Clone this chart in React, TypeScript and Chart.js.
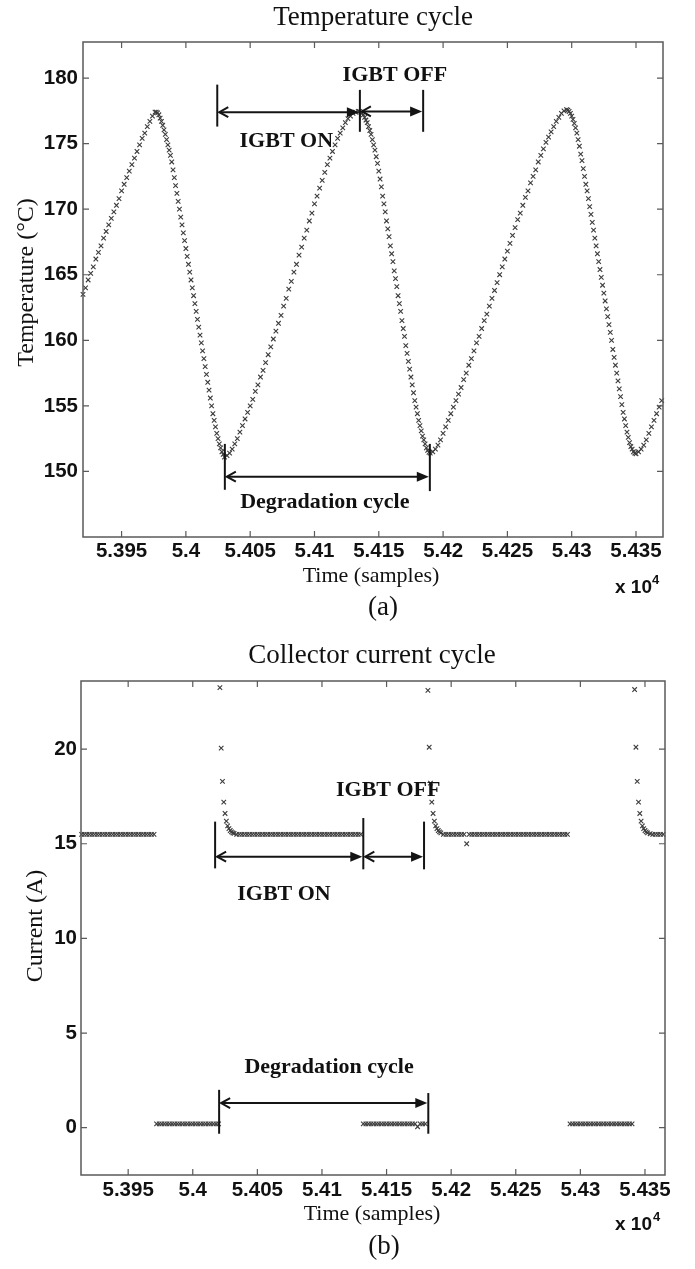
import React, { useEffect, useRef } from 'react';
import { Chart, registerables } from 'chart.js';

Chart.register(...registerables);

const SERIF = '"Liberation Serif", "Times New Roman", serif';
const SANS = '"Liberation Sans", Arial, sans-serif';

// ---------- axis ticks ----------
const xTickValues = [53950, 54000, 54050, 54100, 54150, 54200, 54250, 54300, 54350];
const xTickLabels = ['5.395', '5.4', '5.405', '5.41', '5.415', '5.42', '5.425', '5.43', '5.435'];
const tempYTickValues = [150, 155, 160, 165, 170, 175, 180];
const tempYTickLabels = ['150', '155', '160', '165', '170', '175', '180'];
const curYTickValues = [0, 5, 10, 15, 20];
const curYTickLabels = ['0', '5', '10', '15', '20'];

// ---------- temperature samples (segments: start sample, step, values) ----------
const tempRise0 = [163.5, 164.0, 164.6, 165.1, 165.6, 166.2, 166.7, 167.2, 167.8, 168.3, 168.8, 169.3, 169.8, 170.3, 170.8, 171.4, 171.9, 172.4, 172.9, 173.4, 173.9, 174.4, 174.9, 175.4, 175.8, 176.3, 176.7, 177.1, 177.4];
const tempFall0 = [177.4, 177.35, 177.2, 176.95, 176.7, 176.4, 176.05, 175.7, 175.3, 174.9, 174.5, 174.1, 173.6, 173.0, 172.4, 171.8, 171.2, 170.6, 170.0, 169.4, 168.8, 168.2, 167.6, 167.0, 166.4, 165.8, 165.2, 164.6, 164.0, 163.4, 162.8, 162.2, 161.6, 161.0, 160.4, 159.8, 159.2, 158.6, 158.0, 157.4, 156.8, 156.2, 155.6, 155.0, 154.4, 153.9, 153.4, 152.9, 152.5, 152.1, 151.8, 151.5, 151.3];
const tempRise1 = [151.1, 151.2, 151.4, 151.7, 152.1, 152.5, 153.0, 153.5, 154.0, 154.5, 155.0, 155.5, 156.1, 156.6, 157.2, 157.7, 158.3, 158.9, 159.5, 160.1, 160.7, 161.3, 161.9, 162.6, 163.2, 163.9, 164.5, 165.2, 165.8, 166.5, 167.1, 167.8, 168.4, 169.1, 169.7, 170.4, 171.0, 171.6, 172.2, 172.8, 173.4, 173.9, 174.4, 174.9, 175.4, 175.8, 176.2, 176.6, 176.9, 177.1, 177.3, 177.4, 177.45];
const tempFall1 = [177.45, 177.4, 177.3, 177.2, 177.0, 176.8, 176.6, 176.3, 176.0, 175.7, 175.3, 174.9, 174.5, 174.0, 173.5, 172.9, 172.3, 171.7, 171.0, 170.4, 169.8, 169.1, 168.5, 167.9, 167.2, 166.6, 166.0, 165.3, 164.7, 164.1, 163.4, 162.8, 162.2, 161.5, 160.9, 160.3, 159.6, 159.0, 158.4, 157.8, 157.2, 156.6, 156.0, 155.4, 154.9, 154.4, 153.9, 153.5, 153.1, 152.7, 152.4, 152.1, 151.8, 151.6, 151.45];
const tempRise2 = [151.4, 151.5, 151.7, 152.0, 152.4, 152.9, 153.4, 153.9, 154.4, 154.9, 155.4, 155.9, 156.4, 157.0, 157.5, 158.1, 158.6, 159.2, 159.8, 160.3, 160.9, 161.5, 162.0, 162.6, 163.2, 163.8, 164.4, 165.0, 165.6, 166.2, 166.8, 167.4, 168.0, 168.6, 169.2, 169.7, 170.3, 170.9, 171.4, 172.0, 172.5, 173.0, 173.6, 174.1, 174.6, 175.1, 175.5, 175.9, 176.3, 176.7, 177.0, 177.3, 177.5];
const tempFall2 = [177.6, 177.55, 177.45, 177.3, 177.1, 176.85, 176.55, 176.2, 175.8, 175.3, 174.8, 174.2, 173.7, 173.1, 172.5, 171.9, 171.4, 170.8, 170.2, 169.6, 169.0, 168.4, 167.8, 167.2, 166.6, 166.0, 165.4, 164.8, 164.2, 163.6, 163.0, 162.4, 161.8, 161.2, 160.6, 160.0, 159.3, 158.7, 158.1, 157.5, 156.9, 156.3, 155.7, 155.1, 154.5, 154.0, 153.5, 153.0, 152.6, 152.2, 151.9, 151.7, 151.5, 151.4];
const tempRise3 = [151.35, 151.5, 151.7, 152.0, 152.4, 152.9, 153.4, 153.9, 154.4, 154.9, 155.4];
const tempSegStarts = [53920, 53977, 54030, 54135, 54190, 54296, 54350];
const tempSegSteps = [2, 1, 2, 1, 2, 1, 2];
const tempSegValues = [tempRise0, tempFall0, tempRise1, tempFall1, tempRise2, tempFall2, tempRise3];

// ---------- collector current samples ----------
const curOn0 = [15.5, 15.5, 15.5, 15.5, 15.5, 15.5, 15.5, 15.5, 15.5, 15.5, 15.5, 15.5, 15.5, 15.5, 15.5, 15.5, 15.5, 15.5, 15.5, 15.5, 15.5, 15.5, 15.5, 15.5, 15.5, 15.5, 15.5, 15.5, 15.5];
const curOff0 = [0.2, 0.2, 0.2, 0.2, 0.2, 0.2, 0.2, 0.2, 0.2, 0.2, 0.2, 0.2, 0.2, 0.2, 0.2, 0.2, 0.2, 0.2, 0.2, 0.2, 0.2, 0.2, 0.2, 0.2, 0.2];
const curSpike1 = [23.25, 20.05, 18.3, 17.2, 16.6, 16.2, 15.95, 15.8, 15.7, 15.63, 15.58, 15.55];
const curOn1 = [15.5, 15.5, 15.5, 15.5, 15.5, 15.5, 15.5, 15.5, 15.5, 15.5, 15.5, 15.5, 15.5, 15.5, 15.5, 15.5, 15.5, 15.5, 15.5, 15.5, 15.5, 15.5, 15.5, 15.5, 15.5, 15.5, 15.5, 15.5, 15.5, 15.5, 15.5, 15.5, 15.5, 15.5, 15.5, 15.5, 15.5, 15.5, 15.5, 15.5, 15.5, 15.5, 15.5, 15.5, 15.5, 15.5, 15.5, 15.5, 15.5];
const curOff1 = [0.2, 0.2, 0.2, 0.2, 0.2, 0.2, 0.2, 0.2, 0.2, 0.2, 0.2, 0.2, 0.2, 0.2, 0.2, 0.2, 0.2, 0.2, 0.2, 0.2, 0.2, 0.05, 0.2, 0.2, 0.2];
const curSpike2 = [23.1, 20.1, 18.2, 17.2, 16.6, 16.2, 15.95, 15.8, 15.7, 15.63, 15.58];
const curOn2 = [15.5, 15.5, 15.5, 15.5, 15.5, 15.5, 15.5, 15.5, 15.5, 15.0, 15.5, 15.5, 15.5, 15.5, 15.5, 15.5, 15.5, 15.5, 15.5, 15.5, 15.5, 15.5, 15.5, 15.5, 15.5, 15.5, 15.5, 15.5, 15.5, 15.5, 15.5, 15.5, 15.5, 15.5, 15.5, 15.5, 15.5, 15.5, 15.5, 15.5, 15.5, 15.5, 15.5, 15.5, 15.5, 15.5, 15.5, 15.5, 15.5];
const curOff2 = [0.2, 0.2, 0.2, 0.2, 0.2, 0.2, 0.2, 0.2, 0.2, 0.2, 0.2, 0.2, 0.2, 0.2, 0.2, 0.2, 0.2, 0.2, 0.2, 0.2, 0.2, 0.2, 0.2, 0.2, 0.2];
const curSpike3 = [23.15, 20.1, 18.3, 17.2, 16.6, 16.2, 15.95, 15.8, 15.7, 15.63, 15.58];
const curOn3 = [15.53, 15.5, 15.5, 15.5, 15.5, 15.5];
const curSegStarts = [53914, 53972, 54021, 54034, 54132, 54182, 54194, 54292, 54342, 54354];
const curSegSteps = [2, 2, 1, 2, 2, 1, 2, 2, 1, 2];
const curSegValues = [curOn0, curOff0, curSpike1, curOn1, curOff1, curSpike2, curOn2, curOff2, curSpike3, curOn3];

// ---------- annotations (data units) ----------
const tempArrows = [[54024.4, 54135.3, 177.4], [54135.3, 54184.5, 177.45], [54030.3, 54189.7, 149.6]];
const tempBars = [[54024.4, 176.3, 179.5], [54135.3, 175.9, 179.1], [54184.5, 175.9, 179.1], [54030.3, 148.6, 152.1], [54189.7, 148.5, 152.1]];
const tempNotes: [string, number, number][] = [['IGBT ON', 54078.1, 175.2], ['IGBT OFF', 54162.5, 180.2], ['Degradation cycle', 54108, 147.64]];
const curArrows = [[54017.3, 54132, 14.32], [54132, 54179, 14.32], [54020.4, 54182.3, 1.3]];
const curBars = [[54017.3, 13.7, 16.17], [54132, 13.65, 16.36], [54179, 13.65, 16.17], [54020.4, -0.32, 2.0], [54182.3, -0.32, 1.83]];
const curNotes: [string, number, number][] = [['IGBT ON', 54070.6, 12.35], ['IGBT OFF', 54151.3, 17.81], ['Degradation cycle', 54105.5, 3.17]];

function buildPoints(starts: number[], steps: number[], segs: number[][]) {
  const pts: { x: number; y: number }[] = [];
  segs.forEach((vals, k) => {
    vals.forEach((v, i) => pts.push({ x: starts[k] + i * steps[k], y: v }));
  });
  return pts;
}

type PanelText = { text: string; x: number; y: number; font: string; align?: CanvasTextAlign; rotate?: boolean };

type Panel = {
  key: string;
  points: { x: number; y: number }[];
  xMin: number; xMax: number; yMin: number; yMax: number;
  yTicks: number[]; yLabels: string[];
  padTop: number; padRight: number; yWidth: number; xHeight: number;
  yTickPad: number; xTickPad: number;
  arrows: number[][]; bars: number[][]; notes: [string, number, number][];
  texts: PanelText[];
};

function overlay(p: Panel) {
  return {
    id: 'overlay' + p.key,
    afterDraw(chart: any) {
      const ctx: CanvasRenderingContext2D = chart.ctx;
      const a = chart.chartArea;
      const xs = chart.scales.x;
      const ys = chart.scales.y;
      ctx.save();
      // frame
      ctx.strokeStyle = '#5a5a5a';
      ctx.lineWidth = 1.5;
      ctx.strokeRect(a.left, a.top, a.right - a.left, a.bottom - a.top);
      // inward ticks on all four sides
      ctx.lineWidth = 1.2;
      ctx.beginPath();
      xTickValues.forEach((v) => {
        const px = xs.getPixelForValue(v);
        ctx.moveTo(px, a.bottom); ctx.lineTo(px, a.bottom - 6);
        ctx.moveTo(px, a.top); ctx.lineTo(px, a.top + 6);
      });
      p.yTicks.forEach((v) => {
        const py = ys.getPixelForValue(v);
        ctx.moveTo(a.left, py); ctx.lineTo(a.left + 6, py);
        ctx.moveTo(a.right, py); ctx.lineTo(a.right - 6, py);
      });
      ctx.stroke();
      // annotation bars
      ctx.strokeStyle = '#141414';
      ctx.fillStyle = '#141414';
      ctx.lineWidth = 2;
      p.bars.forEach(([x, y1, y2]) => {
        const X = xs.getPixelForValue(x);
        ctx.beginPath();
        ctx.moveTo(X, ys.getPixelForValue(y1));
        ctx.lineTo(X, ys.getPixelForValue(y2));
        ctx.stroke();
      });
      // arrows
      p.arrows.forEach(([x1, x2, y]) => {
        const X1 = xs.getPixelForValue(x1);
        const X2 = xs.getPixelForValue(x2);
        const Y = ys.getPixelForValue(y);
        ctx.lineWidth = 2;
        ctx.beginPath();
        ctx.moveTo(X1 + 2, Y);
        ctx.lineTo(X2 - 6, Y);
        ctx.stroke();
        ctx.beginPath();
        ctx.moveTo(X1 + 11, Y - 5);
        ctx.lineTo(X1 + 2, Y);
        ctx.lineTo(X1 + 11, Y + 5);
        ctx.stroke();
        ctx.beginPath();
        ctx.moveTo(X2 - 1, Y);
        ctx.lineTo(X2 - 13, Y - 5);
        ctx.lineTo(X2 - 13, Y + 5);
        ctx.closePath();
        ctx.fill();
      });
      // notes
      ctx.fillStyle = '#111';
      ctx.font = 'bold 22px ' + SERIF;
      ctx.textAlign = 'center';
      ctx.textBaseline = 'middle';
      p.notes.forEach(([t, x, y]) => ctx.fillText(t, xs.getPixelForValue(x), ys.getPixelForValue(y)));
      // titles and labels
      ctx.textBaseline = 'alphabetic';
      p.texts.forEach((t) => {
        ctx.font = t.font;
        ctx.textAlign = t.align || 'center';
        if (t.rotate) {
          ctx.save();
          ctx.translate(t.x, t.y);
          ctx.rotate(-Math.PI / 2);
          ctx.fillText(t.text, 0, 0);
          ctx.restore();
        } else {
          ctx.fillText(t.text, t.x, t.y);
        }
      });
      ctx.restore();
    },
  };
}

function makeChart(canvas: HTMLCanvasElement, p: Panel) {
  const tickFont = { family: SANS, weight: 'bold' as const, size: 20.5 };
  return new Chart(canvas, {
    type: 'scatter',
    data: {
      datasets: [
        {
          data: p.points,
          pointStyle: 'crossRot',
          pointRadius: 3.2,
          pointBorderWidth: 1.1,
          borderColor: '#3c3c3c',
          backgroundColor: '#3c3c3c',
          showLine: false,
          clip: false as any,
        } as any,
      ],
    },
    options: {
      responsive: false,
      animation: false,
      events: [],
      layout: { padding: { left: 0, top: p.padTop, right: p.padRight, bottom: 0 } },
      plugins: { legend: { display: false }, title: { display: false }, tooltip: { enabled: false } },
      scales: {
        x: {
          type: 'linear',
          position: 'bottom',
          min: p.xMin,
          max: p.xMax,
          grid: { display: false, drawTicks: false },
          border: { display: false },
          ticks: {
            autoSkip: false,
            maxRotation: 0,
            minRotation: 0,
            padding: p.xTickPad,
            color: '#111',
            font: tickFont,
            callback: (_v: any, i: number) => xTickLabels[i],
          },
          afterBuildTicks: (s: any) => { s.ticks = xTickValues.map((v) => ({ value: v })); },
          afterFit: (s: any) => { s.height = p.xHeight; s.paddingLeft = 0; s.paddingRight = 0; },
        },
        y: {
          type: 'linear',
          position: 'left',
          min: p.yMin,
          max: p.yMax,
          grid: { display: false, drawTicks: false },
          border: { display: false },
          ticks: {
            autoSkip: false,
            padding: p.yTickPad,
            color: '#111',
            font: tickFont,
            callback: (_v: any, i: number) => p.yLabels[i],
          },
          afterBuildTicks: (s: any) => { s.ticks = p.yTicks.map((v) => ({ value: v })); },
          afterFit: (s: any) => { s.width = p.yWidth; s.paddingTop = 0; s.paddingBottom = 0; },
        },
      },
    } as any,
    plugins: [overlay(p)],
  });
}

const titleFont = '27px ' + SERIF;
const xLabelFont = '22px ' + SERIF;
const yLabelFont = '24px ' + SERIF;
const expFont = 'bold 19px ' + SANS;
const supFont = 'bold 13px ' + SANS;

export default function App() {
  const refA = useRef<HTMLCanvasElement>(null);
  const refB = useRef<HTMLCanvasElement>(null);

  useEffect(() => {
    const panelA: Panel = {
      key: 'a',
      points: buildPoints(tempSegStarts, tempSegSteps, tempSegValues),
      xMin: 53920, xMax: 54371, yMin: 145, yMax: 182.75,
      yTicks: tempYTickValues, yLabels: tempYTickLabels,
      padTop: 42, padRight: 32, yWidth: 83, xHeight: 103,
      yTickPad: 5, xTickPad: 2,
      arrows: tempArrows, bars: tempBars, notes: tempNotes,
      texts: [
        { text: 'Temperature cycle', x: 373, y: 25, font: titleFont },
        { text: 'Time (samples)', x: 371, y: 582, font: xLabelFont },
        { text: 'Temperature (\u00B0C)', x: 33, y: 282.5, font: yLabelFont, rotate: true },
        { text: '(a)', x: 383, y: 615, font: titleFont },
        { text: 'x 10', x: 615, y: 593, font: expFont, align: 'left' },
        { text: '4', x: 652, y: 584, font: supFont, align: 'left' },
      ],
    };
    const panelB: Panel = {
      key: 'b',
      points: buildPoints(curSegStarts, curSegSteps, curSegValues),
      xMin: 53913.5, xMax: 54365.5, yMin: -2.5, yMax: 23.6,
      yTicks: curYTickValues, yLabels: curYTickLabels,
      padTop: 41, padRight: 30, yWidth: 81, xHeight: 94,
      yTickPad: 4, xTickPad: 3,
      arrows: curArrows, bars: curBars, notes: curNotes,
      texts: [
        { text: 'Collector current cycle', x: 372, y: 23, font: titleFont },
        { text: 'Time (samples)', x: 372, y: 580, font: xLabelFont },
        { text: 'Current (A)', x: 42, y: 286, font: yLabelFont, rotate: true },
        { text: '(b)', x: 384, y: 613.5, font: titleFont },
        { text: 'x 10', x: 615, y: 590, font: expFont, align: 'left' },
        { text: '4', x: 653, y: 581, font: supFont, align: 'left' },
      ],
    };
    const ca = makeChart(refA.current!, panelA);
    const cb = makeChart(refB.current!, panelB);
    return () => {
      ca.destroy();
      cb.destroy();
    };
  }, []);

  return (
    <div style={{ position: 'absolute', left: 0, top: 0, width: 695, height: 1269, background: '#fff' }}>
      <canvas ref={refA} width={695} height={640} style={{ position: 'absolute', left: 0, top: 0, display: 'block' }} />
      <canvas ref={refB} width={695} height={629} style={{ position: 'absolute', left: 0, top: 640, display: 'block' }} />
    </div>
  );
}
